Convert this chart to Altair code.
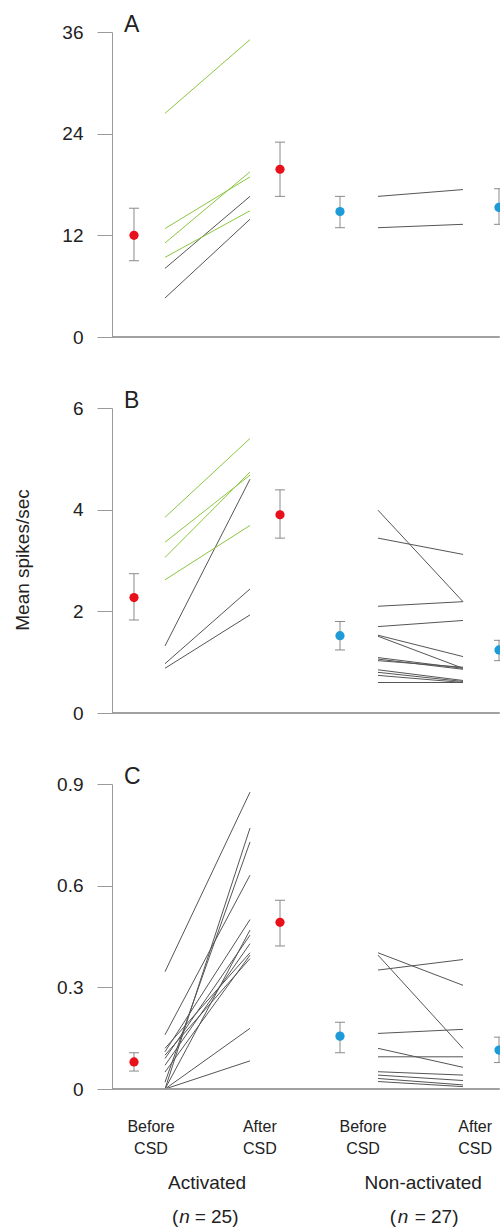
import altair as alt
import pandas as pd

# ---------------- data ----------------
panels = ["A", "B", "C"]
y_max = [36, 6, 0.9]
y_ticks = [[0, 12, 24, 36], [0, 2, 4, 6], [0, 0.3, 0.6, 0.9]]

conds = ["act_before", "act_after", "non_before", "non_after"]
means_A = [12.0, 19.8, 14.8, 15.3]
lo_A = [9.0, 16.6, 12.9, 13.3]
hi_A = [15.2, 23.0, 16.6, 17.5]
means_B = [2.27, 3.90, 1.52, 1.24]
lo_B = [1.83, 3.44, 1.24, 1.03]
hi_B = [2.74, 4.39, 1.80, 1.43]
means_C = [0.080, 0.492, 0.156, 0.115]
lo_C = [0.053, 0.422, 0.107, 0.078]
hi_C = [0.107, 0.557, 0.197, 0.153]

# individual neurons (before -> after)
A_act_green_before = [26.4, 12.8, 11.1, 9.4]
A_act_green_after = [35.1, 18.9, 19.5, 14.9]
A_act_gray_before = [8.1, 4.6]
A_act_gray_after = [16.6, 13.9]
A_non_before = [16.6, 12.9]
A_non_after = [17.4, 13.3]

B_act_green_before = [3.85, 3.36, 3.06, 2.62]
B_act_green_after = [5.40, 4.68, 4.74, 3.69]
B_act_gray_before = [1.32, 0.97, 0.88]
B_act_gray_after = [4.60, 2.44, 1.93]
B_non_before = [3.99, 3.44, 2.10, 1.70, 1.53, 1.51, 1.09, 1.06, 1.03, 0.85, 0.80, 0.74, 0.60]
B_non_after = [2.19, 3.12, 2.19, 1.82, 1.11, 0.88, 0.88, 0.86, 0.90, 0.64, 0.62, 0.60, 0.60]

C_act_green_before = []
C_act_green_after = []
C_act_gray_before = [0.346, 0.0, 0.02, 0.16, 0.11, 0.0, 0.09, 0.07, 0.12, 0.05, 0.10, 0.0, 0.0]
C_act_gray_after = [0.876, 0.770, 0.729, 0.631, 0.500, 0.469, 0.454, 0.429, 0.402, 0.395, 0.385, 0.179, 0.083]
C_non_before = [0.402, 0.351, 0.395, 0.164, 0.120, 0.095, 0.051, 0.041, 0.031, 0.022]
C_non_after = [0.306, 0.382, 0.120, 0.176, 0.064, 0.095, 0.041, 0.025, 0.012, 0.007]

cat_labels = ["Before\nCSD", "After\nCSD", "Before\nCSD", "After\nCSD"]
group_labels = ["Activated", "Non-activated"]
group_n = ["= 25)", "= 27)"]
y_title = "Mean spikes/sec"

# ---------------- style / layout ----------------
FONT = "Liberation Sans"
RED = "#e8101a"
BLUE = "#1e9bd7"
GREEN = "#8cc63f"
GRAY = "#555555"
AXC = "#9a9a9a"
ERRC = "#8a8a8a"
TXT = "#222222"

W, H = 388, 305
SLOT = {
    "act_before": 5.67, "act_line0": 13.66, "act_line1": 35.57, "act_after": 43.3,
    "non_before": 58.76, "non_line0": 68.56, "non_line1": 90.46, "non_after": 99.74,
}
LABEL_X = [10.05, 38.1, 64.7, 93.6]
GROUP_X = [24.5, 80.2]
PAREN_X = [[17.1, 18.7, 21.3], [73.2, 75.0, 78.0]]

xscale = alt.Scale(domain=[0, 100], nice=False, zero=False)
X = lambda f="x": alt.X(f"{f}:Q", scale=xscale, axis=None)

means = {"A": means_A, "B": means_B, "C": means_C}
los = {"A": lo_A, "B": lo_B, "C": lo_C}
his = {"A": hi_A, "B": hi_B, "C": hi_C}
lines = {
    "A": [(A_act_gray_before, A_act_gray_after, "act", GRAY),
          (A_act_green_before, A_act_green_after, "act", GREEN),
          (A_non_before, A_non_after, "non", GRAY)],
    "B": [(B_act_gray_before, B_act_gray_after, "act", GRAY),
          (B_act_green_before, B_act_green_after, "act", GREEN),
          (B_non_before, B_non_after, "non", GRAY)],
    "C": [(C_act_gray_before, C_act_gray_after, "act", GRAY),
          (C_act_green_before, C_act_green_after, "act", GREEN),
          (C_non_before, C_non_after, "non", GRAY)],
}


def panel(i):
    p = panels[i]
    yscale = alt.Scale(domain=[0, y_max[i]], nice=False, zero=True)
    yaxis = alt.Axis(values=y_ticks[i], tickSize=15, labelPadding=14, domainColor=AXC,
                     tickColor=AXC, labelColor=TXT, labelFont=FONT, labelFontSize=19,
                     title=None, grid=False, labelExpr="toString(datum.value)",
                     domainWidth=1, tickWidth=1)
    Y = lambda f: alt.Y(f"{f}:Q", scale=yscale, axis=yaxis)

    rows = []
    n = 0
    for before, after, grp, col in lines[p]:
        for b, a in zip(before, after):
            rows.append(dict(id=n, x=SLOT[grp + "_line0"], v=b, col=col))
            rows.append(dict(id=n, x=SLOT[grp + "_line1"], v=a, col=col))
            n += 1
    ldf = pd.DataFrame(rows)

    sdf = pd.DataFrame({
        "x": [SLOT[c] for c in conds],
        "m": means[p], "lo": los[p], "hi": his[p],
        "col": [RED, RED, BLUE, BLUE],
    })
    cap = pd.DataFrame({
        "x": [SLOT[c] for c in conds] * 2,
        "v": los[p] + his[p],
    })

    layers = []
    layers.append(alt.Chart(ldf).mark_line(strokeWidth=1).encode(
        x=X(), y=Y("v"), detail="id:N", color=alt.Color("col:N", scale=None)))
    layers.append(alt.Chart(sdf).mark_rule(color=ERRC, strokeWidth=1).encode(
        x=X(), y=Y("lo"), y2="hi:Q"))
    layers.append(alt.Chart(cap).mark_tick(orient="horizontal", size=10, thickness=1,
                                           color=ERRC, clip=True, opacity=1).encode(
        x=X(), y=Y("v")))
    layers.append(alt.Chart(sdf).mark_circle(size=85, opacity=1, clip=True).encode(
        x=X(), y=Y("m"), color=alt.Color("col:N", scale=None)))
    # x baseline
    layers.append(alt.Chart(sdf).mark_rule(color=AXC, strokeWidth=1).encode(
        x=alt.value(0), x2=alt.value(W - 0.5), y=alt.value(H)))
    # panel letter
    layers.append(alt.Chart(pd.DataFrame({"t": [p]})).mark_text(
        font=FONT, fontSize=23, color=TXT, align="left", baseline="alphabetic").encode(
        text="t:N", x=alt.value(12), y=alt.value(0)))

    if i == 0:
        # invisible anchor pinning page origin
        layers.append(alt.Chart(sdf).mark_rule(opacity=0, strokeOpacity=0).encode(
            x=alt.value(-112), x2=alt.value(-112), y=alt.value(-32), y2=alt.value(0)))
    if i == 1:
        layers.append(alt.Chart(pd.DataFrame({"t": [y_title]})).mark_text(
            font=FONT, fontSize=19, color=TXT, angle=270, align="center",
            baseline="middle").encode(text="t:N", x=alt.value(-89), y=alt.value(152)))
    if i == 2:
        cdf = pd.DataFrame({"x": LABEL_X, "t": cat_labels})
        layers.append(alt.Chart(cdf).mark_text(
            font=FONT, fontSize=16, color=TXT, align="center", baseline="middle",
            lineBreak="\n", lineHeight=22).encode(
            x=X(), text="t:N", y=alt.value(H + 38)))
        gdf = pd.DataFrame({"x": GROUP_X, "t": group_labels})
        layers.append(alt.Chart(gdf).mark_text(
            font=FONT, fontSize=19, color=TXT, align="center", baseline="middle").encode(
            x=X(), text="t:N", y=alt.value(H + 94)))
        pdf = pd.DataFrame({"x": [PAREN_X[0][0], PAREN_X[1][0]], "t": ["(", "("]})
        ndf = pd.DataFrame({"x": [PAREN_X[0][1], PAREN_X[1][1]], "t": ["n", "n"]})
        edf = pd.DataFrame({"x": [PAREN_X[0][2], PAREN_X[1][2]], "t": group_n})
        layers.append(alt.Chart(pdf).mark_text(
            font=FONT, fontSize=19, color=TXT, align="right", baseline="middle").encode(
            x=X(), text="t:N", y=alt.value(H + 128)))
        layers.append(alt.Chart(ndf).mark_text(
            font=FONT, fontSize=19, color=TXT, align="center", baseline="middle",
            fontStyle="italic").encode(x=X(), text="t:N", y=alt.value(H + 128)))
        layers.append(alt.Chart(edf).mark_text(
            font=FONT, fontSize=19, color=TXT, align="left", baseline="middle").encode(
            x=X(), text="t:N", y=alt.value(H + 128)))

    return alt.layer(*layers).properties(width=W, height=H)


chart = alt.vconcat(panel(0), panel(1), panel(2), spacing=71, bounds="flush").properties(
    padding={"left": 0, "top": 0, "right": 0, "bottom": 0},
    background="white",
).configure_view(stroke=None)

chart.save("out.html", embed_options={"renderer": "svg", "actions": False})
